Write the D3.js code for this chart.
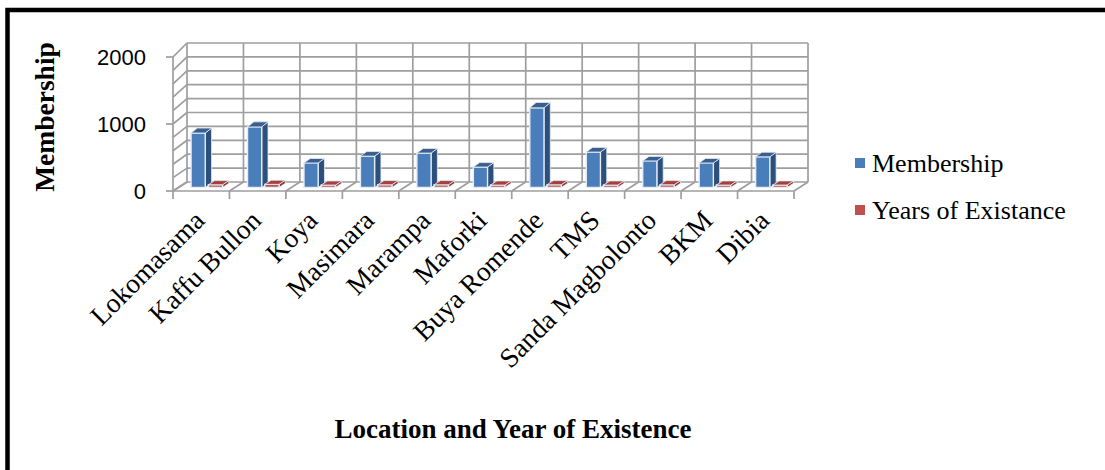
<!DOCTYPE html>
<html>
<head>
<meta charset="utf-8">
<script src="https://d3js.org/d3.v7.min.js"></script>
<style>
body { margin: 0; background: #fff; }
svg { display: block; }
</style>
</head>
<body>
<div id="chart"></div>
<script>

// data
var categories = ["Lokomasama", "Kaffu Bullon", "Koya", "Masimara", "Marampa", "Maforki",
  "Buya Romende", "TMS", "Sanda Magbolonto", "BKM", "Dibia"];
var membership = [800, 890, 360, 460, 505, 300, 1170, 520, 390, 360, 450];
var years = [40, 45, 35, 40, 40, 35, 40, 35, 40, 35, 35];
var seriesNames = ["Membership", "Years of Existance"];
var yTicks = [0, 1000, 2000];

var width = 1105, height = 470;

var svg = d3.select("#chart").append("svg")
  .attr("width", width).attr("height", height);

svg.append("rect").attr("width", width).attr("height", height).attr("fill", "#fff");

// frame
svg.append("rect")
  .attr("x", 7.5).attr("y", 10).attr("width", 1200).attr("height", 600)
  .attr("fill", "none").attr("stroke", "#000").attr("stroke-width", 4.5);

/*** 3D projection: front plane scales plus a back plane ***/
var xFront = d3.scaleBand().domain(categories).range([173, 794]);
var ySeries = d3.scaleBand().domain(seriesNames).range([0, xFront.bandwidth()])
  .paddingInner(0.18).paddingOuter(0.72);
var yFront = d3.scaleLinear().domain([0, 2000]).range([191, 57]);
var yBack = d3.scaleLinear().domain([0, 2000]).range([182, 43]);
var depthX = 14;

function P(x, v, t) {
  return [x + t * depthX, yFront(v) + t * (yBack(v) - yFront(v))];
}

var x0 = xFront.range()[0], x1 = xFront.range()[1];
var grid = "#9e9e9e";
var walls = svg.append("g");

// back wall
walls.append("polygon")
  .attr("points", [P(x0, 0, 1), P(x0, 2000, 1), P(x1, 2000, 1), P(x1, 0, 1)].join(" "))
  .attr("fill", "#fff");

var gridValues = d3.range(0, 2001, 200);
var boundaries = categories.map(function (c) { return xFront(c); }).concat([x1]);

function seg(a, b) {
  walls.append("line")
    .attr("x1", a[0]).attr("y1", a[1]).attr("x2", b[0]).attr("y2", b[1])
    .attr("stroke", grid).attr("stroke-width", 1.7);
}

gridValues.forEach(function (v) {
  seg(P(x0, v, 1), P(x1, v, 1));   // back wall
  seg(P(x0, v, 0), P(x0, v, 1));   // left side wall
});
boundaries.forEach(function (b) {
  seg(P(b, 0, 1), P(b, 2000, 1));  // back wall verticals
  seg(P(b, 0, 0), P(b, 0, 1));     // floor
});
seg(P(x0, 0, 0), P(x1, 0, 0));
seg(P(x0, 0, 0), P(x0, 2000, 0));

// ticks
yTicks.forEach(function (v) {
  seg([x0 - 7, yFront(v)], [x0, yFront(v)]);
});
boundaries.forEach(function (b) {
  seg([b, yFront(0)], [b, yFront(0) + 8]);
});

svg.append("g").selectAll("text").data(yTicks).join("text")
  .attr("x", 146).attr("y", function (d) { return yFront(d); })
  .attr("dy", "0.36em")
  .attr("text-anchor", "end")
  .style("font-family", "'Liberation Sans', Arial, sans-serif")
  .style("font-size", "22px")
  .text(function (d) { return d; });

/*** bars ***/
var t0 = 0.4, t1 = 0.85;
var colors = {
  "Membership": { front: "#4a7ebb", side: "#2d4f7c", top: "#3a5e8e" },
  "Years of Existance": { front: "#c0504d", side: "#8c3836", top: "#a5403d" }
};

var barData = [];
categories.forEach(function (c, i) {
  barData.push({ cat: c, series: seriesNames[0], value: membership[i] });
  barData.push({ cat: c, series: seriesNames[1], value: years[i] });
});

var bars = svg.append("g").selectAll("g").data(barData).join("g");

function face(pts) { return pts.join(" "); }

bars.each(function (d) {
  var g = d3.select(this);
  var xs = xFront(d.cat) + ySeries(d.series);
  var xe = xs + ySeries.bandwidth();
  var col = colors[d.series];
  g.append("polygon")
    .attr("points", face([P(xe, 0, t0), P(xe, d.value, t0), P(xe, d.value, t1), P(xe, 0, t1)]))
    .attr("fill", col.side).attr("stroke", "#e4ecf6").attr("stroke-width", 0.8);
  g.append("polygon")
    .attr("points", face([P(xs, 0, t0), P(xs, d.value, t0), P(xe, d.value, t0), P(xe, 0, t0)]))
    .attr("fill", col.front).attr("stroke", "#e4ecf6").attr("stroke-width", 1.4);
  g.append("polygon")
    .attr("points", face([P(xs, d.value, t0), P(xe, d.value, t0), P(xe, d.value, t1), P(xs, d.value, t1)]))
    .attr("fill", col.top).attr("stroke", "#e4ecf6").attr("stroke-width", 0.8);
});

/*** category labels ***/
svg.append("g").selectAll("text").data(categories).join("text")
  .attr("transform", function (d) {
    return "translate(" + (xFront(d) + xFront.bandwidth() / 2 + 5) + "," + 222 + ") rotate(-45)";
  })
  .attr("text-anchor", "end")
  .style("font-family", "'Liberation Serif', 'Times New Roman', serif")
  .style("font-size", "27.5px")
  .text(function (d) { return d; });

/*** axis titles ***/
svg.append("text")
  .attr("transform", "translate(54,117) rotate(-90)")
  .attr("text-anchor", "middle")
  .style("font-family", "'Liberation Serif', 'Times New Roman', serif")
  .style("font-weight", "bold")
  .style("font-size", "27.5px")
  .text("Membership");

svg.append("text")
  .attr("x", 513).attr("y", 438)
  .attr("text-anchor", "middle")
  .style("font-family", "'Liberation Serif', 'Times New Roman', serif")
  .style("font-weight", "bold")
  .style("font-size", "27px")
  .text("Location and Year of Existence");

/*** legend ***/
var legend = svg.append("g").selectAll("g").data(seriesNames).join("g")
  .attr("transform", function (d, i) { return "translate(855," + (158 + i * 47) + ")"; });
legend.append("rect").attr("width", 10).attr("height", 10)
  .attr("fill", function (d) { return colors[d].front; });
legend.append("text")
  .attr("x", 17).attr("y", 14)
  .style("font-family", "'Liberation Serif', 'Times New Roman', serif")
  .style("font-size", "26px")
  .text(function (d) { return d; });

</script>
</body>
</html>
